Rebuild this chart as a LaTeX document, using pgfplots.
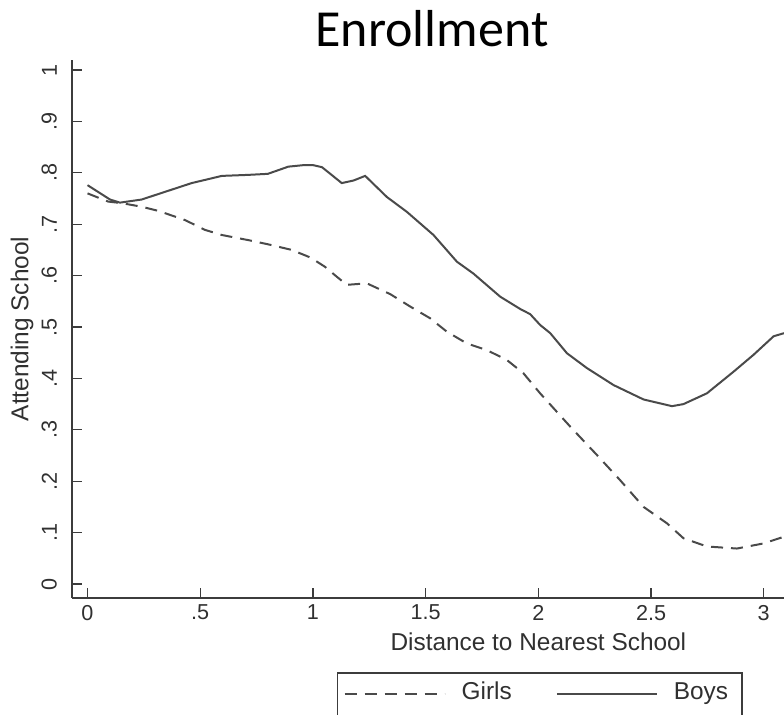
\documentclass[border=0pt]{standalone}
\usepackage{pgfplots}
\pgfplotsset{compat=1.18}
\usepackage{fontspec}
\setmainfont{Liberation Sans}
\newfontfamily\titlefont{Carlito}

\definecolor{stline}{HTML}{4A4A4A}
\definecolor{staxis}{HTML}{3C3C3C}
\definecolor{sttext}{HTML}{303030}

\begin{document}
\begin{tikzpicture}
\begin{axis}[
    name=ax,
    scale only axis,
    width=356pt, height=269pt,
    xmin=-0.0688, xmax=3.09,
    ymin=-0.0272, ymax=1.0195,
    axis x line*=bottom,
    axis y line*=left,
    axis line style={staxis, line width=1pt},
    tick align=inside,
    major tick length=5pt,
    tick style={staxis, line width=0.6pt},
    xtick={0,0.5,1,1.5,2,2.5,3},
    xticklabels={0,.5,1,1.5,2,2.5,3},
    ytick={0,0.1,0.2,0.3,0.4,0.5,0.6,0.7,0.8,0.9,1},
    yticklabels={0,.1,.2,.3,.4,.5,.6,.7,.8,.9,1},
    /pgf/number format/assume math mode=true,
    ticklabel style={font=\fontsize{10.8}{12}\selectfont, text=sttext},
    yticklabel style={rotate=90, anchor=south},
    yticklabel shift=4pt,
    xlabel={Distance to Nearest School},
    ylabel={Attending School},
    label style={font=\fontsize{12.2}{14}\selectfont, text=sttext},
    xlabel style={at={(axis description cs:0.655,-0.0985)}, anchor=base},
    ylabel style={at={(axis description cs:-0.0702,0.5)}, anchor=center},
    legend columns=2,
    legend style={
        at={(axis description cs:0.372,-0.1375)}, anchor=north west,
        draw=staxis, line width=0.8pt,
        font=\fontsize{12.2}{14}\selectfont, text=sttext,
        inner xsep=3pt, inner ysep=4pt,
        /tikz/every even column/.append style={column sep=18pt},
        nodes={inner xsep=4pt, text height=0.75em, text depth=0.22em},
    },
    legend cell align=left,
    legend image code/.code={\draw[#1] (0pt,0pt) -- (50pt,0pt); \path (54pt,0pt);},
]
\addplot[stline, line width=1pt, dash pattern=on 6pt off 4pt] coordinates {
    (0,0.760) (0.092,0.744) (0.152,0.741) (0.24,0.734) (0.314,0.726)
    (0.433,0.708) (0.521,0.689) (0.596,0.679) (0.714,0.669) (0.80,0.661)
    (0.906,0.650) (0.99,0.635) (1.054,0.617) (1.1,0.600) (1.15,0.582)
    (1.239,0.585) (1.343,0.564) (1.431,0.540) (1.52,0.517) (1.594,0.491)
    (1.683,0.468) (1.772,0.455) (1.86,0.436) (1.934,0.410) (2.008,0.371)
    (2.142,0.306) (2.26,0.251) (2.363,0.202) (2.467,0.150) (2.571,0.118)
    (2.644,0.089) (2.748,0.073) (2.881,0.069) (3.0,0.079) (3.09,0.092)
};
\addlegendentry{Girls}
\addplot[stline, line width=1pt] coordinates {
    (0,0.776) (0.05,0.762) (0.10,0.748) (0.144,0.742) (0.24,0.748)
    (0.344,0.763) (0.462,0.780) (0.596,0.794) (0.714,0.796) (0.80,0.798)
    (0.891,0.812) (0.96,0.815) (1.0,0.815) (1.04,0.811) (1.08,0.797)
    (1.128,0.780) (1.18,0.785) (1.232,0.794) (1.328,0.753) (1.417,0.724)
    (1.535,0.679) (1.639,0.627) (1.712,0.604) (1.831,0.559) (1.92,0.535)
    (1.964,0.525) (2.008,0.504) (2.053,0.488) (2.127,0.449) (2.216,0.420)
    (2.334,0.387) (2.467,0.359) (2.593,0.346) (2.644,0.350) (2.748,0.371)
    (2.866,0.413) (2.955,0.446) (3.044,0.482) (3.09,0.488)
};
\addlegendentry{Boys}
\end{axis}
\node[anchor=base, font=\titlefont\fontsize{26}{31}\selectfont]
    at ([xshift=180pt, yshift=275.5pt]ax.south west) {Enrollment};
\pgfresetboundingbox
\path ([xshift=-36pt, yshift=-58.5pt]ax.south west) rectangle ([yshift=30pt]ax.north east);
\end{tikzpicture}
\end{document}
